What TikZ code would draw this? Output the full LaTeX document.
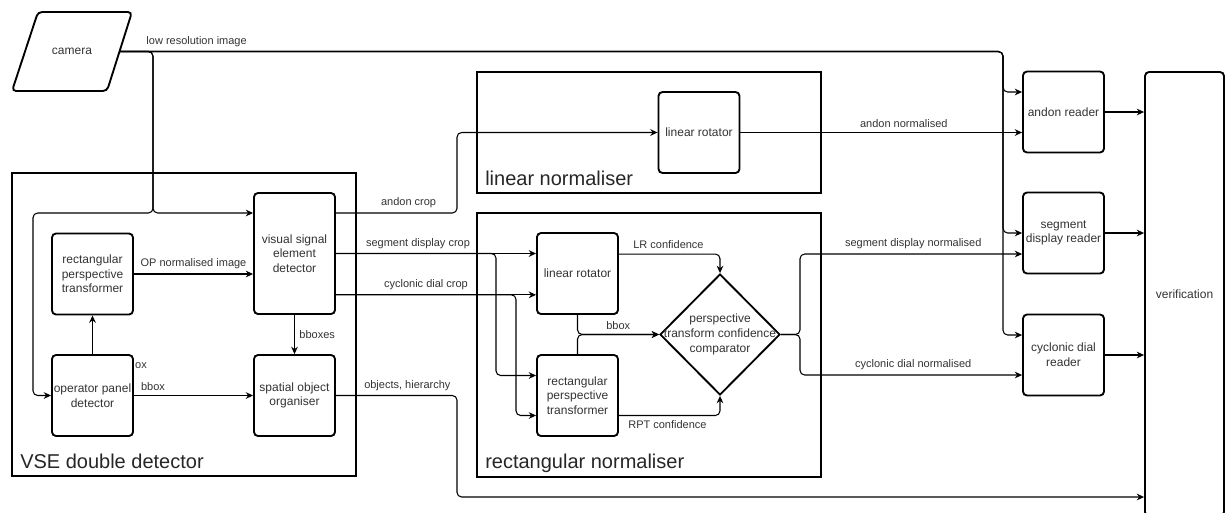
\documentclass[tikz,border=0pt]{standalone}
\usepackage{fontspec}
\setmainfont{Liberation Sans}
\usetikzlibrary{arrows.meta,shapes.geometric}

\begin{document}
\begin{tikzpicture}[x=0.75pt, y=-0.75pt,
  block/.style={draw, line width=1.4pt, rounded corners=3pt, fill=white,
    minimum width=60.75pt, minimum height=60.75pt, inner sep=1pt, align=center,
    font=\fontsize{9}{11}\selectfont, text=black!80},
  decision/.style={draw, diamond, line width=1.4pt, fill=white, inner sep=0pt,
    minimum width=90pt, minimum height=90.75pt},
  camtext/.style={minimum width=71.25pt, minimum height=59.25pt, inner sep=0pt,
    font=\fontsize{9}{11}\selectfont, text=black!80},
  container/.style={line width=1.4pt},
  boxtitle/.style={anchor=base west, inner sep=0pt, font=\fontsize{15}{18}\selectfont, text=black!85},
  lbl/.style={font=\fontsize{8.25}{10}\selectfont, text=black!80},
  conn/.style={-{Stealth[length=5.5pt,width=5pt]}, line width=0.8pt, rounded corners=3.5pt}]
  \useasboundingbox (0,0) rectangle (1226,512);

  % containers
  \draw[container] (12,173) rectangle (356,476);
  \node[boxtitle] (vsetitle) at (20,468) {VSE double detector};
  \draw[container] (477,72) rectangle (821,193);
  \node[boxtitle] (lintitle) at (485,185) {linear normaliser};
  \draw[container] (477,213) rectangle (821,477);
  \node[boxtitle] (recttitle) at (485,468) {rectangular normaliser};

  \node[lbl] (oxlbl) at (141,366) {ox};

  % camera (parallelogram)
  \node[camtext] (camera) at (72,51.5) {camera};
  \draw[line width=1.4pt, rounded corners=3pt] (38,12) -- (132,12) -- (107,91) -- (12,91) -- cycle;

  \node[block, minimum height=90.75pt] (vsed) at (294.5,253.5) {visual signal\\element\\detector};
  \node[block] (rpt1) at (92.5,274) {rectangular\\perspective\\transformer};
  \node[block] (opd) at (92.5,395.5) {operator panel\\detector};
  \node[block] (soo) at (294.5,395.5) {spatial object\\organiser};
  \node[block] (linrot1) at (699,132.5) {linear rotator};
  \node[block] (linrot2) at (577.5,273.5) {linear rotator};
  \node[block] (rpt2) at (577.5,395.5) {rectangular\\perspective\\transformer};
  \node[decision, label={[align=center, font=\fontsize{9}{11}\selectfont, text=black!80]center:{perspective\\transform confidence\\comparator}}] (cmp) at (720,334.5) {};
  \node[block] (andonr) at (1063.5,112) {andon reader};
  \node[block] (segr) at (1063.5,233) {segment\\display reader};
  \node[block] (cycr) at (1063.5,355) {cyclonic dial\\reader};
  \node[block, minimum width=59.25pt, minimum height=333pt] (verif) at (1184.5,294) {verification};

  % camera
  \draw[conn] (camera.east) -- node[lbl, above, pos=.087] {low resolution image} (1003,51.5) -- (1003,92) -- ([yshift=15pt]andonr.west);
  \draw[conn] (camera.east) -- (1003,51.5) -- (1003,233) -- (segr.west);
  \draw[conn] (camera.east) -- (1003,51.5) -- (1003,335) -- ([yshift=15pt]cycr.west);
  \coordinate (split) at (153,213);
  \draw[conn] (camera.east) -| (split) -- (split -| vsed.west);
  \draw[conn] (camera.east) -| (split) -| (33,395.5) -- (opd.west);

  % VSE double detector
  \draw[conn] (rpt1.east) -- node[lbl, above] {OP normalised image} (rpt1.east -| vsed.west);
  \draw[conn] (opd.north) -- (rpt1.south);
  \draw[conn] (vsed.south) -- node[lbl, right] {bboxes} (soo.north);
  \draw[conn] (opd.east) -- node[lbl, above, pos=.16] {bbox} (soo.west);

  \draw[conn] (split -| vsed.east) -- node[lbl, above, pos=.6] {andon crop} (457,213) -- (457,132.5) -- (linrot1.west);
  \draw[conn] (vsed.east) -- node[lbl, above, pos=.41] {segment display crop} (vsed.east -| linrot2.west);
  \draw[conn] (vsed.east) -- (496,253.5) -- (496,375.5) -- ([yshift=15pt]rpt2.west);
  \coordinate (cdc) at ([yshift=-31pt]vsed.east);
  \draw[conn] (cdc) -- node[lbl, above, pos=.45] {cyclonic dial crop} (cdc -| linrot2.west);
  \draw[conn] (cdc) -- (516,294.8) -- (516,415.5) -- ([yshift=-15pt]rpt2.west);
  \coordinate (objy) at (457,497);
  \draw[conn] (soo.east) -- node[lbl, above, pos=.59] {objects, hierarchy} (457,395.5) -- (objy) -- (objy -| verif.west);

  % rectangular normaliser
  \coordinate (bbj) at (577.5,334.5);
  \draw[conn] (linrot2.south) -- (bbj) -- node[lbl, above] {bbox} (cmp.west);
  \draw[conn] (rpt2.north) -- (bbj) -- (cmp.west);
  \coordinate (lrc) at ([yshift=14.6pt]linrot2.east);
  \draw[conn] (lrc) -- node[lbl, above, pos=.49] {LR confidence} (lrc -| cmp.north) -- (cmp.north);
  \coordinate (rptc) at ([yshift=-15pt]rpt2.east);
  \draw[conn] (rptc) -- node[lbl, below, pos=.48] {RPT confidence} (rptc -| cmp.south) -- (cmp.south);

  % readers
  \draw[conn] (cmp.east) -- (800,334.5) -- (800,254) -- node[lbl, above, pos=.51] {segment display normalised} ([yshift=-15.75pt]segr.west);
  \draw[conn] (cmp.east) -- (800,334.5) -- (800,375) -- node[lbl, above, pos=.51] {cyclonic dial normalised} ([yshift=-15pt]cycr.west);
  \draw[conn] (linrot1.east) -- node[lbl, above, pos=.58] {andon normalised} (linrot1.east -| andonr.west);
  \draw[conn] (andonr.east) -- (andonr.east -| verif.west);
  \draw[conn] (segr.east) -- (segr.east -| verif.west);
  \draw[conn] (cycr.east) -- (cycr.east -| verif.west);
\end{tikzpicture}
\end{document}
